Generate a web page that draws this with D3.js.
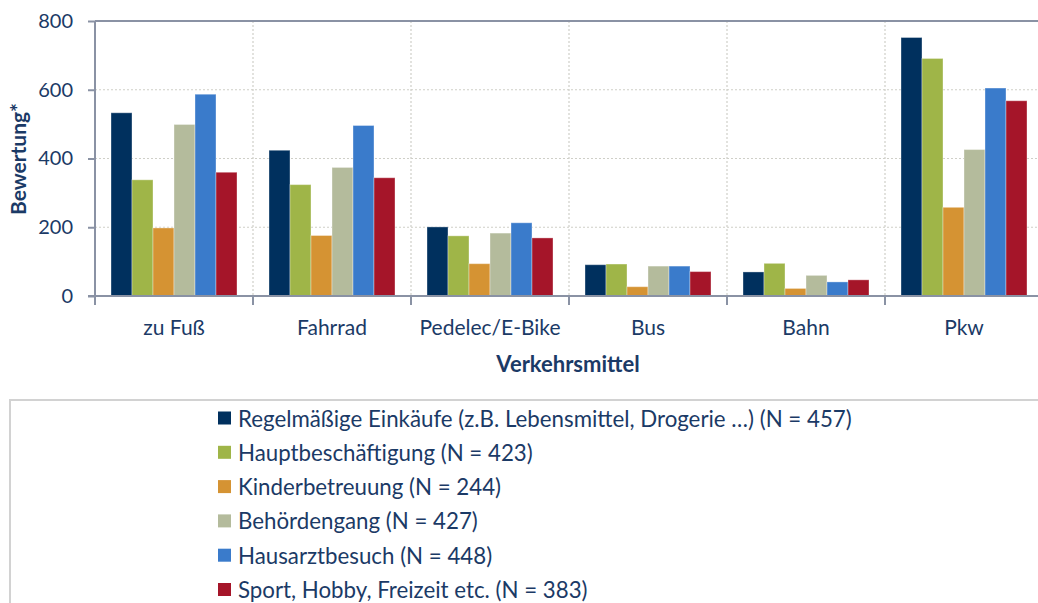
<!DOCTYPE html>
<html><head><meta charset="utf-8">
<script src="https://cdn.jsdelivr.net/npm/d3@7"></script>
<style>body{margin:0;background:#fff}svg{display:block}text{font-family:Lato,"Open Sans",sans-serif}</style>
</head><body>
<svg id="c" width="1038" height="603"></svg>
<script>
const categories = ["zu Fuß","Fahrrad","Pedelec/E-Bike","Bus","Bahn","Pkw"];
const seriesNames = [
  "Regelmäßige Einkäufe (z.B. Lebensmittel, Drogerie …) (N = 457)",
  "Hauptbeschäftigung (N = 423)",
  "Kinderbetreuung (N = 244)",
  "Behördengang (N = 427)",
  "Hausarztbesuch (N = 448)",
  "Sport, Hobby, Freizeit etc. (N = 383)"
];
const einkaeufe   = [533, 424, 201, 91, 70, 752];
const hauptbesch  = [338, 324, 175, 93, 95, 691];
const kinder      = [198, 176, 94, 27, 22, 258];
const behoerde    = [499, 374, 183, 87, 60, 426];
const hausarzt    = [587, 496, 213, 87, 41, 605];
const sport       = [360, 344, 169, 71, 47, 568];
const seriesValues = [einkaeufe, hauptbesch, kinder, behoerde, hausarzt, sport];
const yTicks = [0, 200, 400, 600, 800];
const colors = ["#00305e","#9fb548","#d59333","#b4bb9c","#3a7bcb","#a51529"];

(function(){
const svg = d3.select("#c");
const textColor = "#1b3a66";
const axisColor = "#8a92a4";
const pLeft = 95, pTop = 21, pBottom = 296, groupW = 158;
const pRight = pLeft + groupW * categories.length;

const x = d3.scaleBand().domain(categories).range([pLeft, pRight]).paddingInner(0).paddingOuter(0);
const xi = d3.scaleBand().domain(d3.range(seriesNames.length)).range([16, groupW - 16]).padding(0);
const y = d3.scaleLinear().domain([0, 800]).range([pBottom, pTop]);

// horizontal gridlines
svg.append("g").selectAll("line").data(yTicks.filter(t => t > 0 && t < 800)).join("line")
  .attr("x1", pLeft).attr("x2", pRight).attr("y1", d => y(d)).attr("y2", d => y(d))
  .attr("stroke", "#cfcfc8").attr("stroke-width", 1.2).attr("stroke-dasharray", "2,2");
// vertical gridlines
svg.append("g").selectAll("line").data(categories.slice(1)).join("line")
  .attr("x1", d => x(d)).attr("x2", d => x(d)).attr("y1", pTop).attr("y2", pBottom)
  .attr("stroke", "#cfcfc8").attr("stroke-width", 1.2).attr("stroke-dasharray", "2,2");

// top border
svg.append("line").attr("x1", pLeft).attr("x2", pRight).attr("y1", y(800)).attr("y2", y(800))
  .attr("stroke", axisColor).attr("stroke-width", 2);

// bars
const groups = svg.append("g").selectAll("g").data(categories).join("g")
  .attr("transform", d => `translate(${x(d)},0)`);
groups.selectAll("rect").data((c, ci) => seriesValues.map((s, si) => ({si, v: s[ci]}))).join("rect")
  .attr("x", d => xi(d.si)).attr("width", xi.bandwidth())
  .attr("y", d => y(d.v)).attr("height", d => y(0) - y(d.v))
  .attr("fill", d => colors[d.si])
  .attr("stroke", "rgba(255,255,255,0.35)").attr("stroke-width", 1);

// y axis
const yAxis = svg.append("g").attr("transform", `translate(${pLeft},0)`)
  .call(d3.axisLeft(y).tickValues(yTicks).tickSize(7).tickPadding(15));
yAxis.select(".domain").attr("stroke", axisColor).attr("stroke-width", 2).attr("d", `M0,${pTop}V${pBottom}`);
yAxis.selectAll(".tick line").attr("stroke", axisColor).attr("stroke-width", 2);
yAxis.selectAll(".tick text").attr("fill", textColor).attr("font-size", 20).attr("font-family", "Lato");

// x axis
const xAxis = svg.append("g").attr("transform", `translate(0,${pBottom})`)
  .call(d3.axisBottom(x).tickSize(0).tickPadding(24));
xAxis.select(".domain").attr("stroke", axisColor).attr("stroke-width", 2).attr("d", `M${pLeft-7},0H${pRight}`);
xAxis.selectAll(".tick text").attr("fill", textColor).attr("font-size", 21).attr("font-family", "Lato");
svg.append("g").selectAll("line").data(categories).join("line")
  .attr("x1", d => x(d)).attr("x2", d => x(d)).attr("y1", pBottom).attr("y2", pBottom + 9)
  .attr("stroke", axisColor).attr("stroke-width", 2);

// axis titles
svg.append("text").attr("transform", "translate(21,159) rotate(-90)")
  .attr("text-anchor", "middle").attr("dominant-baseline", "middle")
  .attr("font-weight", "bold").attr("font-size", 21).attr("fill", textColor).text("Bewertung*");
svg.append("text").attr("x", 568).attr("y", 366)
  .attr("text-anchor", "middle").attr("dominant-baseline", "middle")
  .attr("font-weight", "bold").attr("font-size", 22).attr("fill", textColor).text("Verkehrsmittel");

// legend
svg.append("rect").attr("x", 10).attr("y", 400).attr("width", 1100).attr("height", 300)
  .attr("fill", "none").attr("stroke", "#d2d2d2").attr("stroke-width", 2);
const lg = svg.append("g").selectAll("g").data(seriesNames).join("g")
  .attr("transform", (d, i) => `translate(218,${418 + i * 34.3})`);
lg.append("rect").attr("x", 0).attr("y", -6.5).attr("width", 13).attr("height", 13)
  .attr("fill", (d, i) => colors[i]);
const lt = lg.append("text").attr("x", 20).attr("y", 0).attr("dominant-baseline", "central")
  .attr("font-size", 19).attr("fill", textColor).text(d => d);
const w0 = lt.nodes()[0].getComputedTextLength();
lt.attr("font-size", 19 * 614 / w0);
})();
</script>
</body></html>
